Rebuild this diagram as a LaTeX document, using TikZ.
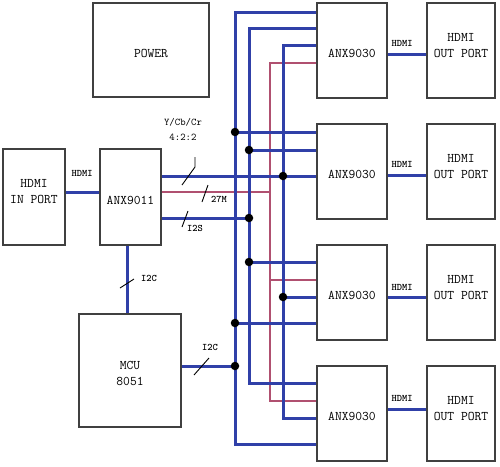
\documentclass[tikz,border=0pt]{standalone}
\usepackage{fontspec}
\definecolor{busblue}{RGB}{48,64,168}
\definecolor{clkpink}{RGB}{176,80,112}
\definecolor{boxc}{RGB}{64,64,64}
\begin{document}
\begin{tikzpicture}[x=1pt,y=-1pt,
  box/.style={draw=boxc, line width=1.4pt, inner sep=0pt},
  txt/.style={font=\ttfamily\addfontfeatures{FakeBold=0.6}\fontsize{13.2}{16.5}\selectfont, align=center, inner sep=0pt},
  lab/.style={font=\ttfamily\bfseries\fontsize{10}{14}\selectfont, align=center, inner sep=0pt},
  bus/.style={draw=busblue, line width=3pt},
  clk/.style={draw=clkpink, line width=1.6pt},
  slash/.style={draw=black, line width=0.9pt},
  dot/.style={circle, fill=black, inner sep=0pt, minimum size=8.5pt}]
\useasboundingbox (0,0) rectangle (500,466);
% boxes
\node[box, minimum width=116pt, minimum height=94pt] (power) at (151,50) {};
\node[box, minimum width=62pt, minimum height=96pt] (hin) at (34,197) {};
\node[box, minimum width=61pt, minimum height=96pt] (anx11) at (130.5,197) {};
\node[box, minimum width=102pt, minimum height=113pt] (mcu) at (130,370.5) {};
\foreach \n/\y in {A/50.5,B/171.5,C/292.5,D/413.5}{
  \node[box, minimum width=70pt, minimum height=95pt] (anx\n) at (352,\y) {};
  \node[box, minimum width=68pt, minimum height=95pt] (out\n) at (461,\y) {};
  \node[txt] (tanx\n) at ([yshift=-3pt]anx\n.center) {ANX9030};
  \node[txt] (tout\n) at ([yshift=5pt]out\n.center) {HDMI\\OUT PORT};
}
\node[txt] (tpower) at ([yshift=-3pt]power.center) {POWER};
\node[txt] (thin) at ([yshift=5.5pt]hin.center) {HDMI\\IN PORT};
\node[txt] (tanx11) at ([yshift=-3.5pt]anx11.center) {ANX9011};
\node[txt] (tmcu) at ([yshift=-3pt]mcu.center) {MCU\\8051};
% junction coordinates
\coordinate (j1) at (235,132);
\coordinate (j2) at (249,150);
\coordinate (j3) at (283,176);
\coordinate (j4) at (249,218);
\coordinate (j5) at (249,262);
\coordinate (j6) at (283,297);
\coordinate (j7) at (235,323);
\coordinate (j8) at (235,366);
\coordinate (p1) at (270,192);
\coordinate (p2) at (270,280);
% clock (pink) bus
\draw[clk] (anxA.west |- 0,63) -| (270,401) -- (anxD.west |- 0,401);
\draw[clk] (anx11.east |- p1) -- (p1);
\draw[clk] (p2) -- (anxC.west |- p2);
% vertical blue buses
\draw[bus] (anxA.west |- 0,12) -| (235,444) -- (anxD.west |- 0,444);
\draw[bus] (anxA.west |- 0,28) -| (249,383) -- (anxD.west |- 0,383);
\draw[bus] (anxA.west |- 0,45) -| (283,418) -- (anxD.west |- 0,418);
% branches
\draw[bus] (j1) -- (anxB.west |- j1);
\draw[bus] (j2) -- (anxB.west |- j2);
\draw[bus] (anx11.east |- j3) -- (anxB.west |- j3);
\draw[bus] (anx11.east |- j4) -- (j4);
\draw[bus] (j5) -- (anxC.west |- j5);
\draw[bus] (j6) -- (anxC.west |- j6);
\draw[bus] (j7) -- (anxC.west |- j7);
\draw[bus] (mcu.east |- j8) -- (j8);
\draw[bus] (anx11.south -| 127,0) -- (mcu.north -| 127,0);
\draw[bus] (hin.east |- 0,192) -- (anx11.west |- 0,192);
% HDMI outputs
\draw[bus] (anxA.east |- 0,54) -- (outA.west |- 0,54);
\draw[bus] (anxB.east |- 0,175) -- (outB.west |- 0,175);
\draw[bus] (anxC.east |- 0,297) -- (outC.west |- 0,297);
\draw[bus] (anxD.east |- 0,409) -- (outD.west |- 0,409);
% dots
\foreach \j in {j1,j2,j3,j4,j5,j6,j7,j8} \node[dot] at (\j) {};
% labels
\node[lab] (lhin) at (82,173) {HDMI};
\node[lab] (lA) at (402,43) {HDMI};
\node[lab] (lB) at (402,164) {HDMI};
\node[lab] (lC) at (402,287) {HDMI};
\node[lab] (lD) at (402,398) {HDMI};
\node[lab, font=\ttfamily\addfontfeatures{FakeBold=0.4}\fontsize{10.3}{15}\selectfont] (lycc) at (183,129.5) {Y/Cb/Cr\\4:2:2};
\draw[slash] (195,157) -- (195,167) -- (182,185);
\draw[slash] (202,202) -- (208,185);
\node[lab] (l27) at (219,199) {27M};
\draw[slash] (182,227) -- (188,211);
\node[lab] (li2s) at (195,228) {I2S};
\draw[slash] (120,288) -- (134,279);
\node[lab] (li2c1) at (149,278) {I2C};
\draw[slash] (194,375) -- (209,358);
\node[lab] (li2c2) at (210,347) {I2C};
\end{tikzpicture}
\end{document}
